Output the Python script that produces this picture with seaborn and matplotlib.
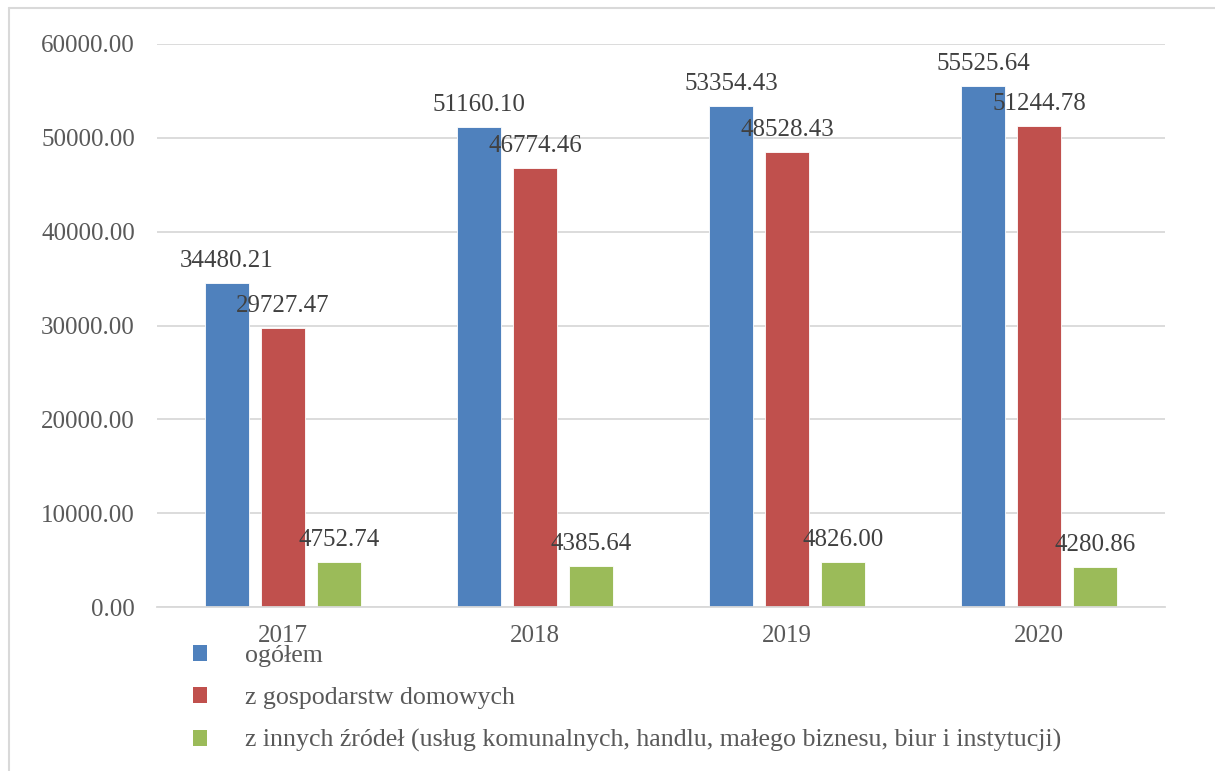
import matplotlib
matplotlib.use("Agg")
import matplotlib.pyplot as plt
import seaborn as sns
import pandas as pd
from matplotlib.lines import Line2D
from matplotlib.patches import Patch

years = ["2017", "2018", "2019", "2020"]
series = ["ogółem", "z gospodarstw domowych",
          "z innych źródeł (usług komunalnych, handlu, małego biznesu, biur i instytucji)"]
ogolem = [34480.21, 51160.10, 53354.43, 55525.64]
gospodarstwa = [29727.47, 46774.46, 48528.43, 51244.78]
inne = [4752.74, 4385.64, 4826.00, 4280.86]
colors = ["#4F81BD", "#C0504D", "#9BBB59"]
yticks = [0, 10000, 20000, 30000, 40000, 50000, 60000]

rows = []
for s, vals in zip(series, [ogolem, gospodarstwa, inne]):
    for y, v in zip(years, vals):
        rows.append({"year": y, "series": s, "value": v})
df = pd.DataFrame(rows)

sns.set_theme(style="white")
plt.rcParams["font.family"] = ["Liberation Serif", "DejaVu Serif"]

W, H = 1215, 771
fig = plt.figure(figsize=(W / 100, H / 100), dpi=100)
ax = fig.add_axes([157 / W, 1 - 607 / H, (1165 - 157) / W, (607 - 44) / H])

sns.barplot(data=df, x="year", y="value", hue="series", hue_order=series,
            order=years, palette=colors, width=0.667, gap=0.214,
            ax=ax, legend=False, errorbar=None, saturation=1,
            edgecolor="#ffffff", linewidth=0.6)

fs = 18
for cont in ax.containers:
    ax.bar_label(cont, fmt="%.2f", padding=8, fontsize=fs, color="#404040")

ax.set_ylim(0, 60000)
ax.set_xlim(-0.5, 3.5)
ax.set_yticks(yticks)
ax.set_yticklabels([f"{v:.2f}" for v in yticks])
ax.yaxis.grid(True, color="#d9d9d9", linewidth=1.3)
ax.set_axisbelow(True)
for s in ["left", "right", "top"]:
    ax.spines[s].set_visible(False)
ax.spines["bottom"].set_color("#d9d9d9")
ax.spines["bottom"].set_linewidth(1.3)
ax.tick_params(axis="y", length=0, pad=16, labelsize=fs, labelcolor="#595959")
ax.tick_params(axis="x", length=0, pad=13, labelsize=fs, labelcolor="#595959")
ax.set_xlabel("")
ax.set_ylabel("")

handles = [Patch(facecolor=c, edgecolor="none") for c in colors]
fig.legend(handles, series, loc="upper left",
           bbox_to_anchor=(193 / W, 1 - 645 / H), bbox_transform=fig.transFigure,
           frameon=False, fontsize=18.6, labelcolor="#595959",
           handlelength=0.55, handleheight=0.55, handletextpad=1.45,
           labelspacing=0.78, borderaxespad=0, borderpad=0)

# chart frame
fig.add_artist(Line2D([9 / W, 9 / W], [0, 1 - 8 / H], transform=fig.transFigure,
                      color="#d9d9d9", linewidth=1.5))
fig.add_artist(Line2D([9 / W, 1], [1 - 8 / H, 1 - 8 / H], transform=fig.transFigure,
                      color="#d9d9d9", linewidth=1.5))

fig.savefig("out.png", dpi=100)
